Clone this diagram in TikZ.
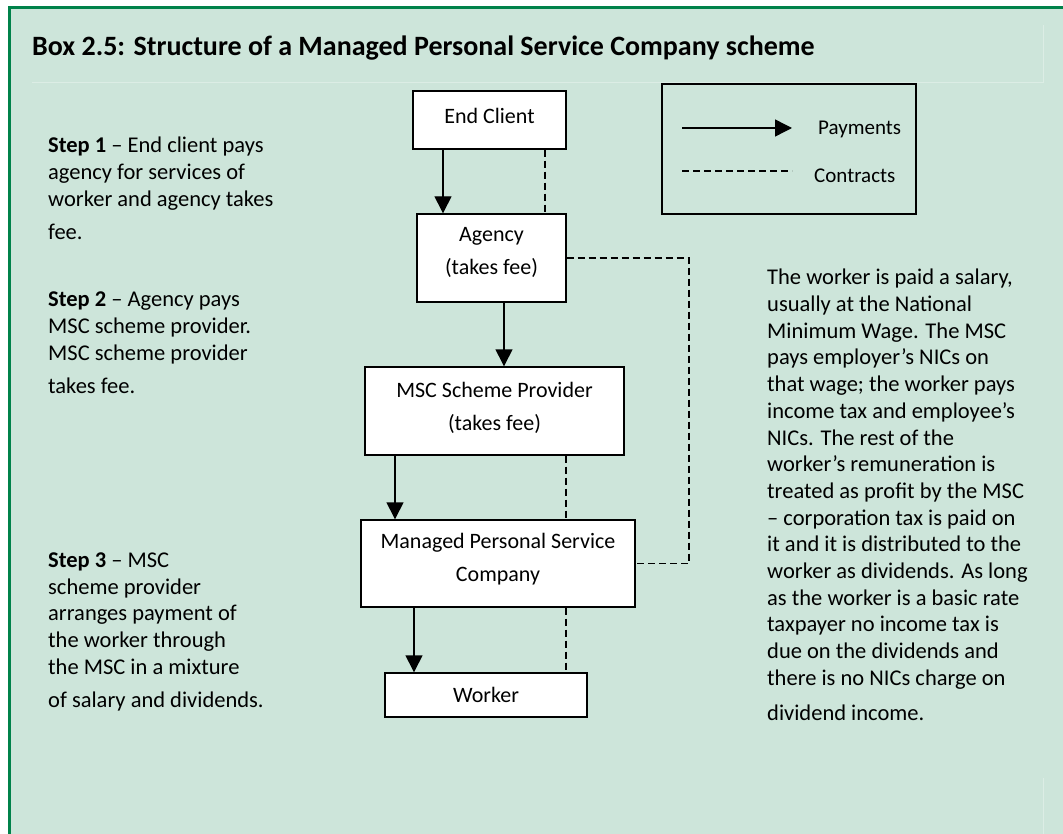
\documentclass[tikz,border=0pt]{standalone}
\usepackage{fontspec}
\setmainfont{Carlito}
\usetikzlibrary{arrows.meta}
\definecolor{boxbg}{HTML}{CDE5DA}
\definecolor{boxline}{HTML}{00824A}
\definecolor{faint}{HTML}{DCEDE5}
\begin{document}
\begin{tikzpicture}[x=1pt, y=-1pt,
    box/.style = {draw, fill=white, line width=1.4pt, align=center, inner sep=0pt, font=\fontsize{22}{33}\selectfont},
    boxtext/.style = {align=center, inner sep=0pt, font=\fontsize{22}{33}\selectfont},
    pay/.style = {line width=1.4pt, -{Triangle[length=17pt, width=17pt]}},
    contract/.style = {line width=1.4pt, dash pattern=on 7pt off 4pt},
    note/.style = {anchor=base west, align=left, inner sep=0pt, font=\fontsize{22.5}{26.7}\selectfont}]
    \useasboundingbox (0,0) rectangle (1063,834);
    % panel
    \fill[boxbg] (9,8) rectangle (1063,834);
    \draw[faint, line width=1pt] (32,83) -- (1043,83) -- (1043,25);
    \draw[faint, line width=1pt] (1043,778) -- (1043,834);
    \draw[boxline, line width=3pt] (1063,8) -- (9,8) -- (9,834);
    \node[anchor=base west, inner sep=0pt, font=\fontsize{28}{30}\selectfont\bfseries] (title) at (32,56)
        {Box 2.5: Structure of a Managed Personal Service Company scheme};

    % flow boxes
    \node[box, minimum width=153pt, minimum height=58pt] (client) at (489.5,120) {};
    \node[box, minimum width=149pt, minimum height=88pt] (agency) at (491.5,258) {};
    \node[box, minimum width=259pt, minimum height=88pt] (provider) at (494.5,411) {};
    \node[box, minimum width=274pt, minimum height=87pt] (msc) at (498,563.5) {};
    \node[box, minimum width=202pt, minimum height=44pt] (worker) at (486,695) {Worker};
    \node[boxtext] (clienttext) at ([yshift=4pt]client.center) {End Client};
    \node[boxtext] (agencytext) at ([yshift=6pt]agency.center) {Agency\\(takes fee)};
    \node[boxtext] (providertext) at ([yshift=3pt]provider.center) {MSC Scheme Provider\\(takes fee)};
    \node[boxtext] (msctext) at ([yshift=4.5pt]msc.center) {Managed Personal Service\\Company};

    % payments
    \draw[pay] ([xshift=-46.5pt]client.south) -- ([xshift=-48.5pt]agency.north);
    \draw[pay] ([xshift=12.5pt]agency.south) -- ([xshift=9.5pt]provider.north);
    \draw[pay] ([xshift=-99.5pt]provider.south) -- ([xshift=-103pt]msc.north);
    \draw[pay] ([xshift=-84pt]msc.south) -- ([xshift=-72pt]worker.north);

    % contracts
    \coordinate (bend) at (689,258);
    \draw[contract] ([xshift=55.5pt]client.south) -- ([xshift=53.5pt]agency.north);
    \draw[contract] (agency.east) -- (bend) -- (bend |- msc.east) -- (msc.east);
    \draw[contract] ([xshift=71.5pt]provider.south) -- ([xshift=68pt]msc.north);
    \draw[contract] ([xshift=68pt]msc.south) -- ([xshift=80pt]worker.north);

    % legend
    \node[draw, line width=1.4pt, minimum width=254pt, minimum height=130pt, inner sep=0pt] (legend) at (789,149) {};
    \coordinate (payA) at (682,128);
    \coordinate (payB) at (792,128);
    \coordinate (conA) at (682,171);
    \coordinate (conB) at (792,171);
    \draw[pay] (payA) -- (payB);
    \draw[contract] (conA) -- (conB);
    \node[anchor=west, inner sep=0pt, font=\fontsize{21}{24}\selectfont] (paylabel) at (818,129) {Payments};
    \node[anchor=west, inner sep=0pt, font=\fontsize{21}{24}\selectfont] (conlabel) at (814,176) {Contracts};

    % steps (placed at the baseline of their last line)
    \node[note] (step1) at (48,240) {\textbf{Step 1} – End client pays\\agency for services of\\worker and agency takes\\[7pt]fee.};
    \node[note] (step2) at (48,393) {\textbf{Step 2} – Agency pays\\MSC scheme provider.\\MSC scheme provider\\[6pt]takes fee.};
    \node[note] (step3) at (48,707) {\textbf{Step 3} – MSC\\scheme provider\\arranges payment of\\the worker through\\the MSC in a mixture\\[6pt]of salary and dividends.};

    % explanation
    \node[note] (remark) at (767,720) {The worker is paid a salary,\\usually at the National\\Minimum Wage. The MSC\\pays employer’s NICs on\\that wage; the worker pays\\income tax and employee’s\\NICs. The rest of the\\worker’s remuneration is\\treated as profit by the MSC\\– corporation tax is paid on\\it and it is distributed to the\\worker as dividends. As long\\as the worker is a basic rate\\taxpayer no income tax is\\due on the dividends and\\there is no NICs charge on\\[8pt]dividend income.};
\end{tikzpicture}
\end{document}
